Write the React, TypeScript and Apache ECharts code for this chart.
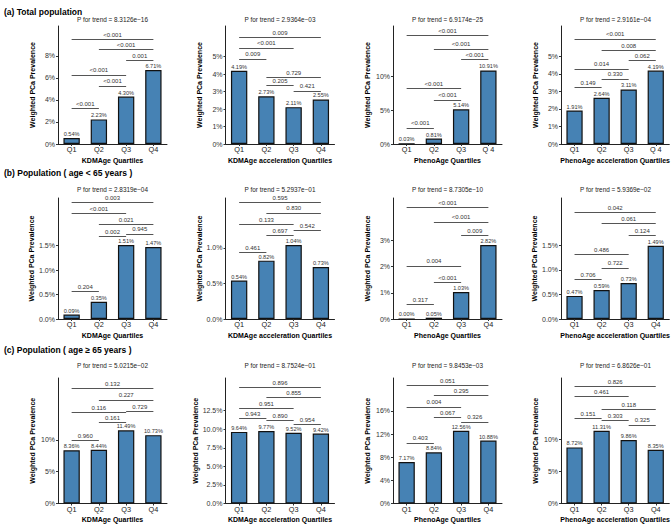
import React, { useEffect, useRef } from 'react';
import * as echarts from 'echarts';

const FONT = '"Liberation Sans", Arial, sans-serif';

const quartiles = ['Q1', 'Q2', 'Q3', 'Q4'];
const quartilesSpaced = ['Q1', 'Q2', 'Q3', 'Q 4'];

const rowTitles = [
  '(a) Total population',
  '(b) Population ( age < 65 years )',
  '(c) Population ( age \u2265 65 years )',
];
const xTitles = [
  'KDMAge Quartiles',
  'KDMAge acceleration Quartiles',
  'PhenoAge Quartiles',
  'PhenoAge acceleration Quartiles',
];
const yTitle = 'Weighted PCa Prevalence';

const trendTotal = ['8.3126e\u221216', '2.9364e\u221203', '6.9174e\u221225', '2.9161e\u221204'];
const trendUnder65 = ['2.8319e\u221204', '5.2937e\u221201', '8.7305e\u221210', '5.9369e\u221202'];
const trendOver65 = ['5.0215e\u221202', '8.7524e\u221201', '9.8453e\u221203', '6.8626e\u221201'];

const prevTotal = [
  [0.54, 2.23, 4.30, 6.71],
  [4.19, 2.73, 2.11, 2.55],
  [0.03, 0.81, 5.14, 10.91],
  [1.91, 2.64, 3.11, 4.19],
];
const prevUnder65 = [
  [0.09, 0.35, 1.51, 1.47],
  [0.54, 0.82, 1.04, 0.73],
  [0.00, 0.05, 1.03, 2.82],
  [0.47, 0.59, 0.73, 1.49],
];
const prevOver65 = [
  [8.36, 8.44, 11.49, 10.73],
  [9.64, 9.77, 9.52, 9.42],
  [7.17, 8.84, 12.56, 10.88],
  [8.72, 11.31, 9.86, 8.35],
];

// [from quartile, to quartile, bracket height (%), p value]
const bracketsTotal: [number, number, number, string][][] = [
  [[0, 3, 9.5, '<0.001'], [1, 3, 8.6, '<0.001'], [2, 3, 7.58, '0.001'], [0, 2, 6.27, '<0.001'], [1, 2, 5.27, '<0.001'], [0, 1, 3.24, '<0.001']],
  [[0, 3, 6.11, '0.009'], [0, 2, 5.5, '<0.001'], [0, 1, 4.87, '0.009'], [1, 3, 3.82, '0.729'], [1, 2, 3.34, '0.205'], [2, 3, 3.05, '0.421']],
  [[0, 3, 16.1, '<0.001'], [1, 3, 14.1, '<0.001'], [2, 3, 12.5, '<0.001'], [0, 2, 8.3, '<0.001'], [1, 2, 6.53, '<0.001'], [0, 1, 2.38, '<0.001']],
  [[0, 3, 5.99, '<0.001'], [1, 3, 5.32, '0.008'], [2, 3, 4.75, '0.062'], [0, 2, 4.28, '0.014'], [1, 2, 3.71, '0.330'], [0, 1, 3.23, '0.149']],
];
const bracketsUnder65: [number, number, number, string][][] = [
  [[0, 3, 2.38, '0.003'], [0, 2, 2.15, '<0.001'], [1, 3, 1.93, '0.021'], [1, 2, 1.69, '0.002'], [2, 3, 1.74, '0.945'], [0, 1, 0.56, '0.204']],
  [[0, 3, 1.64, '0.595'], [1, 3, 1.49, '0.830'], [0, 2, 1.33, '0.133'], [2, 3, 1.24, '0.542'], [1, 2, 1.17, '0.697'], [0, 1, 0.94, '0.461']],
  [[0, 3, 4.25, '<0.001'], [1, 3, 3.70, '<0.001'], [2, 3, 3.19, '0.009'], [0, 2, 2.02, '0.004'], [1, 2, 1.40, '<0.001'], [0, 1, 0.55, '0.317']],
  [[0, 3, 2.17, '0.042'], [1, 3, 1.94, '0.061'], [2, 3, 1.70, '0.124'], [0, 2, 1.31, '0.486'], [1, 2, 1.04, '0.722'], [0, 1, 0.80, '0.706']],
];
const bracketsOver65: [number, number, number, string][][] = [
  [[0, 3, 18.07, '0.132'], [1, 3, 16.25, '0.227'], [0, 2, 14.3, '0.116'], [2, 3, 14.5, '0.729'], [1, 2, 12.7, '0.161'], [0, 1, 9.9, '0.960']],
  [[0, 3, 15.6, '0.896'], [1, 3, 14.3, '0.855'], [0, 2, 12.8, '0.951'], [0, 1, 11.5, '0.943'], [1, 2, 11.2, '0.890'], [2, 3, 10.7, '0.954']],
  [[0, 3, 20.4, '0.051'], [1, 3, 18.7, '0.295'], [0, 2, 16.7, '0.004'], [1, 2, 14.86, '0.067'], [2, 3, 14.1, '0.326'], [0, 1, 10.5, '0.403']],
  [[0, 3, 18.25, '0.826'], [0, 2, 16.6, '0.461'], [1, 3, 14.6, '0.118'], [0, 1, 13.2, '0.151'], [1, 2, 12.9, '0.303'], [2, 3, 12.2, '0.325']],
];

const yMaxTotal = [10.7, 6.76, 17.5, 6.73];
const yMaxUnder65 = [2.47, 1.70, 4.61, 2.46];
const yMaxOver65 = [19.7, 16.9, 21.7, 19.5];

const yTicksTotal = [[0, 2, 4, 6, 8], [0, 1, 2, 3, 4, 5], [0, 5, 10], [0, 1, 2, 3, 4, 5]];
const yTicksUnder65 = [[0, 0.5, 1, 1.5], [0, 0.5, 1], [0, 1, 2, 3], [0, 0.5, 1, 1.5]];
const yTicksOver65 = [[0, 5, 10], [0, 2.5, 5, 7.5, 10, 12.5], [0, 4, 8, 12, 16], [0, 5, 10]];
const yDecimalsTotal = [0, 0, 0, 0];
const yDecimalsUnder65 = [1, 1, 0, 1];
const yDecimalsOver65 = [0, 1, 0, 0];

const rows = [
  { trend: trendTotal, prev: prevTotal, brackets: bracketsTotal, yMax: yMaxTotal, ticks: yTicksTotal, dec: yDecimalsTotal, cats: [quartiles, quartiles, quartilesSpaced, quartilesSpaced] },
  { trend: trendUnder65, prev: prevUnder65, brackets: bracketsUnder65, yMax: yMaxUnder65, ticks: yTicksUnder65, dec: yDecimalsUnder65, cats: [quartiles, quartiles, quartiles, quartiles] },
  { trend: trendOver65, prev: prevOver65, brackets: bracketsOver65, yMax: yMaxOver65, ticks: yTicksOver65, dec: yDecimalsOver65, cats: [quartiles, quartiles, quartiles, quartiles] },
];

// layout
const rowTop = [26, 198, 378];
const rowBottom = [144, 319, 504];
const rowTitleY = [12.5, 174, 351];
const trendTitleY = [19, 189, 365];
const colLeft = [58, 225.5, 393, 561];
const plotWidth = 109;

export default function App() {
  const ref = useRef<HTMLDivElement>(null);
  useEffect(() => {
    document.body.style.margin = '0';
    if (!ref.current) return;
    const chart = echarts.init(ref.current, null, { renderer: 'svg' });
    const grids: any[] = [];
    const xAxes: any[] = [];
    const yAxes: any[] = [];
    const series: any[] = [];
    const graphics: any[] = [];

    rows.forEach((row, r) => {
      graphics.push({
        type: 'text',
        left: 4,
        top: rowTitleY[r] - 5.5,
        style: { text: rowTitles[r], fontFamily: FONT, fontWeight: 'bold', fontSize: 8.5, fill: '#000' },
      });
      for (let c = 0; c < 4; c++) {
        const k = r * 4 + c;
        const left = colLeft[c];
        grids.push({ left, top: rowTop[r], width: plotWidth, height: rowBottom[r] - rowTop[r] });
        graphics.push({
          type: 'text',
          x: left + plotWidth / 2,
          y: trendTitleY[r],
          style: {
            text: 'P for trend = ' + row.trend[c],
            fontFamily: FONT,
            fontSize: 6.4,
            fill: '#222',
            align: 'center',
            verticalAlign: 'middle',
          },
        });
        xAxes.push({
          type: 'category',
          gridIndex: k,
          data: row.cats[c],
          axisLine: { show: true, lineStyle: { color: '#222', width: 1 } },
          axisTick: { show: true, alignWithLabel: true, length: 2, lineStyle: { color: '#333' } },
          axisLabel: { margin: 2, fontSize: 7.3, color: '#222', fontFamily: FONT },
          name: xTitles[c],
          nameLocation: 'middle',
          nameGap: 12.5,
          nameTextStyle: { fontWeight: 'bold', fontSize: 7, color: '#000', fontFamily: FONT },
        });
        const dec = row.dec[c];
        yAxes.push({
          type: 'value',
          gridIndex: k,
          min: 0,
          max: row.yMax[c],
          axisLine: { show: true, lineStyle: { color: '#222', width: 1 } },
          axisTick: { show: true, length: 2, customValues: row.ticks[c], lineStyle: { color: '#333' } },
          axisLabel: {
            customValues: row.ticks[c],
            formatter: (v: number) => v.toFixed(dec) + '%',
            margin: 3,
            fontSize: 7,
            color: '#333',
            fontFamily: FONT,
          },
          splitLine: { show: false },
          name: yTitle,
          nameLocation: 'middle',
          nameGap: 22.5,
          nameTextStyle: { fontWeight: 'bold', fontSize: 7, color: '#000', fontFamily: FONT },
        });
        series.push({
          type: 'bar',
          xAxisIndex: k,
          yAxisIndex: k,
          data: row.prev[c],
          barWidth: '60%',
          itemStyle: { color: '#4682B4', borderColor: '#111', borderWidth: 1.2 },
          label: {
            show: true,
            position: 'top',
            distance: 1,
            fontSize: 5.6,
            color: '#333',
            fontFamily: FONT,
            formatter: (p: any) => Number(p.value).toFixed(2) + '%',
          },
          markLine: {
            silent: true,
            symbol: ['none', 'none'],
            animation: false,
            emphasis: { disabled: true },
            lineStyle: { color: '#555', width: 1, type: 'solid' },
            label: {
              show: true,
              position: 'middle',
              distance: 1.5,
              fontSize: 6,
              color: '#333',
              fontFamily: FONT,
              formatter: '{b}',
            },
            data: row.brackets[c].map((b) => [
              { name: b[3], coord: [b[0], b[2]] },
              { coord: [b[1], b[2]] },
            ]),
          },
        });
      }
    });

    chart.setOption({
      animation: false,
      backgroundColor: '#fff',
      grid: grids,
      xAxis: xAxes,
      yAxis: yAxes,
      series,
      graphic: graphics,
    });
    return () => chart.dispose();
  }, []);
  return <div ref={ref} style={{ width: 672, height: 524 }} />;
}
